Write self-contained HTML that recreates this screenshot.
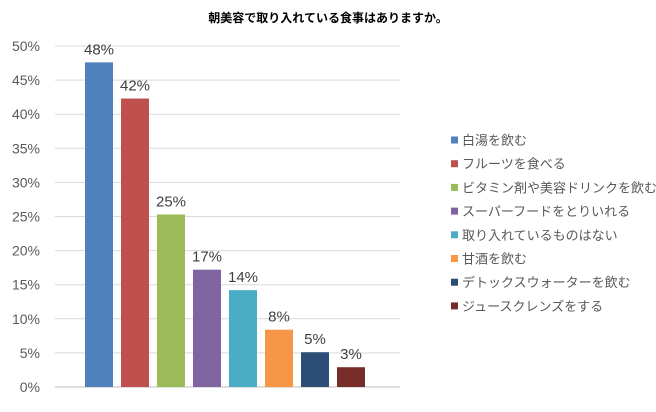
<!DOCTYPE html>
<html><head><meta charset="utf-8">
<style>
body{margin:0;background:#fff;}
svg text{font-family:"Liberation Sans","Noto Sans CJK JP",sans-serif;}
</style></head>
<body>
<svg width="656" height="407" id="c">
<text x="328" y="22" text-anchor="middle" font-size="12" font-weight="bold" fill="#000">朝美容で取り入れている食事はありますか。</text>
</svg>
<script>
const categories=["白湯を飲む","フルーツを食べる","ビタミン剤や美容ドリンクを飲む","スーパーフードをとりいれる","取り入れているものはない","甘酒を飲む","デトックスウォーターを飲む","ジュースクレンズをする"];
const values=[47.6,42.3,25.3,17.2,14.2,8.4,5.1,2.9];
const valueLabels=["48%","42%","25%","17%","14%","8%","5%","3%"];
const ticks=[0,5,10,15,20,25,30,35,40,45,50];
const colors=["#4f81bd","#c0504d","#9bbb59","#8064a2","#4bacc6","#f79646","#2c4d75","#772c2a"];
const svg=document.getElementById('c');
const NS="http://www.w3.org/2000/svg";
const y=v=>387-v*(341/50);
const x=i=>85+i*36;
function mk(t,a){const e=document.createElementNS(NS,t);for(const k in a)e.setAttribute(k,a[k]);svg.appendChild(e);return e;}
ticks.forEach(t=>{
 const l=mk('line',{x1:55,x2:400,y1:y(t),y2:y(t),stroke:t===0?'#bfbfbf':'#d9d9d9','stroke-width':1});
 
 
 const tx=mk('text',{x:40,y:y(t)+5,'text-anchor':'end','font-size':14,fill:'#595959'});
 tx.textContent=t+'%';
 
 
});
values.forEach((v,i)=>{
 const r=mk('rect',{x:x(i),y:y(v),width:28,height:387-y(v),fill:colors[i]});
 
 
 const t=mk('text',{x:x(i)+14,y:y(v)-8,'text-anchor':'middle','font-size':15,fill:'#404040'});
 t.textContent=valueLabels[i];
 
 
 const ly=140+i*23.7;
 const s=mk('rect',{x:451,y:ly-3.5,width:7,height:7,fill:colors[i]});
 
 
 const lt=mk('text',{x:462,y:ly+5,'font-size':13,fill:'#595959'});
 lt.textContent=categories[i];
 
 
});
</script>
</body></html>
